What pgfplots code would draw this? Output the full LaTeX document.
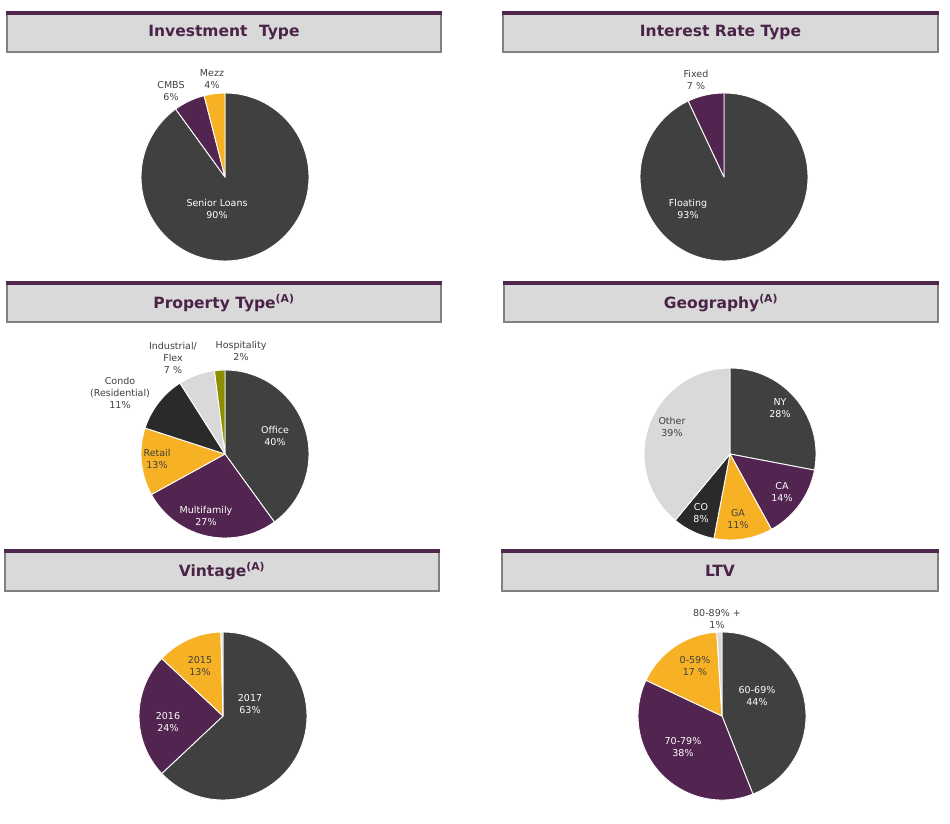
\documentclass[border=0pt]{standalone}
\usepackage{pgfplots}
\pgfplotsset{compat=1.18}
\usepackage{fontspec}
\setmainfont{DejaVu Sans}
\definecolor{dgray}{RGB}{64,64,64}
\definecolor{plum}{RGB}{81,37,79}
\definecolor{gold}{RGB}{247,177,37}
\definecolor{blk}{RGB}{42,42,42}
\definecolor{lgray}{RGB}{217,217,217}
\definecolor{olive}{RGB}{140,142,0}
\definecolor{ttlc}{RGB}{74,36,72}
\definecolor{stripe}{RGB}{80,40,78}
\definecolor{barfill}{RGB}{217,217,217}
\definecolor{bgray}{RGB}{128,128,128}
\definecolor{txt}{RGB}{64,64,64}
\newcommand{\lbl}{\fontsize{9.5}{12}\selectfont}
\newcommand{\ttl}{\fontsize{15.5}{18}\selectfont\bfseries}
\newcommand{\slice}[3]{%
  \pgfmathsetmacro\sa{90-3.6*#1}%
  \pgfmathsetmacro\ea{90-3.6*#2}%
  \pgfmathsetmacro\xa{\R*cos(\sa)}%
  \pgfmathsetmacro\ya{\R*sin(\sa)}%
  \edef\tmp{\noexpand\filldraw[fill=#3,draw=white,line width=0.9pt,line join=round] (axis cs:0,0) -- (axis cs:\xa,\ya) arc[start angle=\sa,end angle=\ea,radius=\R pt] -- cycle;}%
  \tmp}
\newcommand{\lab}[4]{\node[align=center,text=#3,font=\lbl,inner sep=0pt] at (axis cs:#1,#2) {#4};}
\newcommand{\tbar}[5]{%
  \fill[barfill] (#1,#3) rectangle (#2,#4);
  \draw[bgray,line width=1.2pt] (#1,#3) -- (#1,#4) -- (#2,#4) -- (#2,#3);
  \fill[stripe] (#1-0.6,#3) rectangle (#2+0.6,#3+4);
  \node[font=\ttl,text=ttlc] at ({(#1+#2)/2},#3+22) {#5};}
\pgfplotsset{pieax/.style={width=2*#1pt,height=2*#1pt,scale only axis,
  xmin=-#1,xmax=#1,ymin=-#1,ymax=#1,hide axis,clip=false,anchor=center}}
\begin{document}
\begin{tikzpicture}
\path[use as bounding box] (0pt,0pt) rectangle (950pt,-824pt);
\begin{scope}[x=1pt,y=-1pt]
\tbar{7}{441}{11}{52}{Investment\hspace{0.4em} Type}
\tbar{503}{938}{11}{52}{Interest Rate Type}
\tbar{7}{441}{281}{322}{Property Type\textsuperscript{(A)}}
\tbar{504}{938}{281}{322}{Geography\textsuperscript{(A)}}
\tbar{5}{439}{549}{591}{Vintage\textsuperscript{(A)}}
\tbar{502}{938}{549}{591}{LTV}
\end{scope}

% Investment Type
\def\R{84}
\begin{axis}[pieax=84,at={(225pt,-177pt)}]
\slice{0}{90}{dgray}
\slice{90}{96}{plum}
\slice{96}{100}{gold}
\lab{-8}{-32}{white}{Senior Loans\\90\%}
\lab{-54}{86}{txt}{CMBS\\6\%}
\lab{-13}{98}{txt}{Mezz\\4\%}
\end{axis}

% Interest Rate Type
\def\R{84}
\begin{axis}[pieax=84,at={(724pt,-177pt)}]
\slice{0}{93}{dgray}
\slice{93}{100}{plum}
\lab{-36}{-32}{white}{Floating\\93\%}
\lab{-28}{97}{txt}{Fixed\\7 \%}
\end{axis}

% Property Type
\def\R{84}
\begin{axis}[pieax=84,at={(225pt,-454pt)}]
\slice{0}{40}{dgray}
\slice{40}{67}{plum}
\slice{67}{80}{gold}
\slice{80}{91}{blk}
\slice{91}{98}{lgray}
\slice{98}{100}{olive}
\lab{50}{18}{white}{Office\\40\%}
\lab{-19}{-62}{white}{Multifamily\\27\%}
\lab{-68}{-5}{txt}{Retail\\13\%}
\lab{-105}{61}{txt}{Condo\\(Residential)\\11\%}
\lab{-52}{96}{txt}{Industrial/\\Flex\\7 \%}
\lab{16}{103}{txt}{Hospitality\\2\%}
\end{axis}

% Geography
\def\R{86}
\begin{axis}[pieax=86,at={(730pt,-454pt)}]
\slice{0}{28}{dgray}
\slice{28}{42}{plum}
\slice{42}{53}{gold}
\slice{53}{61}{blk}
\slice{61}{100}{lgray}
\lab{50}{46}{white}{NY\\28\%}
\lab{52}{-38}{white}{CA\\14\%}
\lab{8}{-65}{txt}{GA\\11\%}
\lab{-29}{-59}{white}{CO\\8\%}
\lab{-58}{27}{txt}{Other\\39\%}
\end{axis}

% Vintage
\def\R{84}
\begin{axis}[pieax=84,at={(223pt,-716pt)}]
\slice{0}{63}{dgray}
\slice{63}{87}{plum}
\slice{87}{99.6}{gold}
\slice{99.6}{100}{lgray}
\lab{27}{12}{white}{2017\\63\%}
\lab{-55}{-6.5}{white}{2016\\24\%}
\lab{-23}{50}{txt}{2015\\13\%}
\end{axis}

% LTV
\def\R{84}
\begin{axis}[pieax=84,at={(722pt,-716pt)}]
\slice{0}{44}{dgray}
\slice{44}{82}{plum}
\slice{82}{99}{gold}
\slice{99}{100}{lgray}
\lab{35}{19.5}{white}{60-69\%\\44\%}
\lab{-39}{-31}{white}{70-79\%\\38\%}
\lab{-27}{50}{txt}{0-59\%\\17 \%}
\lab{-5}{97}{txt}{80-89\% +\\1\%}
\end{axis}
\end{tikzpicture}
\end{document}
